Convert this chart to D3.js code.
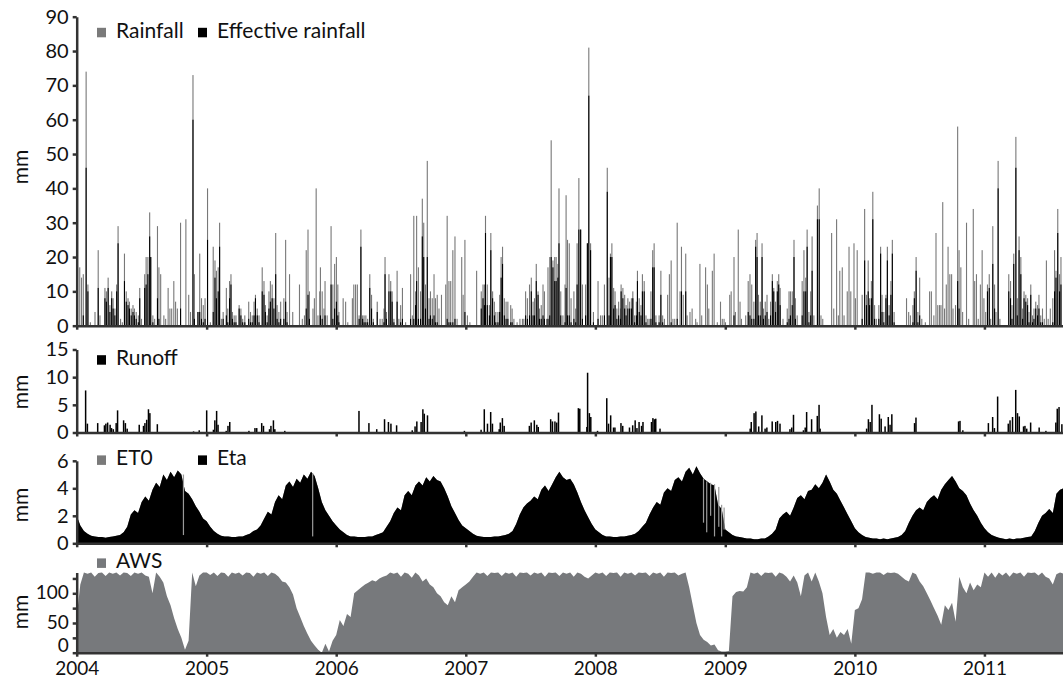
<!DOCTYPE html>
<html>
<head>
<meta charset="utf-8">
<script src="https://d3js.org/d3.v7.min.js"></script>
<style>
  body { margin: 0; background: #fff; }
  svg { display: block; font-family: Lato, "Open Sans", sans-serif; }
  .axis path, .axis line { stroke: #333; stroke-width: 2.5; }
  .axis text { font-size: 20px; fill: #111; font-family: Lato, sans-serif; }
  .lab { font-size: 21px; fill: #111; }
</style>
</head>
<body>
<svg id="chart" width="1063" height="679"></svg>
<script>
// rain events: [day since 2004-01-01, rainfall mm, effective rainfall mm]
var rain2004 = [[7,17,0],[12,14,0],[17,15,3],[25,74,46],[30,12,10],[37,1,0],[50,4,0],[59,22,11],[64,3,0],[78,11,8],[82,10,7],[87,14,11],[92,6,4],[97,10,8],[101,8,5],[106,5,3],[111,12,10],[115,29,24],[122,2,0],[127,1,0],[133,21,13],[138,10,7],[143,8,6],[147,7,5],[152,5,3],[157,6,4],[161,5,3],[166,4,2],[172,3,1],[176,11,8],[181,2,0],[190,15,11],[194,20,12],[199,20,15],[204,33,26],[207,20,20],[213,3,1],[218,2,0],[226,29,8],[230,17,2],[235,15,0],[244,3,0],[249,2,0],[256,11,0],[261,5,0],[266,5,0],[272,13,0],[277,7,0],[282,5,0],[291,30,5],[306,31,0],[314,9,0],[319,4,0],[326,73,60],[330,15,2],[340,4,4],[345,21,4],[350,8,2],[355,6,1],[360,8,2]];
var rain2005 = [[367,40,25],[375,1,0],[383,23,4],[388,19,14],[392,16,8],[397,17,10],[401,30,23],[406,2,0],[411,4,2],[420,11,3],[424,5,1],[429,13,8],[433,15,12],[437,4,2],[442,3,1],[447,3,1],[456,6,5],[461,5,3],[466,2,1],[472,3,1],[483,7,2],[488,4,1],[493,3,1],[498,7,3],[502,9,8],[507,5,3],[512,3,1],[521,17,10],[526,13,9],[530,6,4],[535,3,1],[540,10,5],[544,13,7],[549,12,8],[554,8,5],[559,27,15],[563,6,2],[568,4,1],[573,7,2],[582,8,2],[587,25,7],[591,4,1],[598,15,0],[607,4,0],[626,12,0],[634,2,0],[640,3,0],[645,22,5],[650,28,9],[654,10,2],[664,5,0],[668,8,0],[673,40,0],[678,3,0],[683,10,0],[685,17,3],[690,10,2],[695,5,0],[698,13,3],[704,3,0],[715,29,12],[720,12,2],[725,18,5],[730,20,7]];
var rain2006 = [[734,12,3],[737,4,1],[749,8,0],[756,7,0],[762,1,0],[775,8,0],[779,12,0],[784,12,0],[789,12,0],[794,3,2],[799,28,23],[804,3,2],[808,3,1],[813,3,1],[818,2,1],[824,15,11],[829,9,5],[834,2,1],[845,7,4],[853,2,0],[859,2,0],[864,5,1],[867,20,15],[871,4,2],[878,15,10],[883,13,10],[887,10,7],[892,2,1],[901,16,7],[906,2,0],[911,6,1],[916,11,2],[925,1,0],[939,15,2],[944,3,0],[948,32,2],[953,10,6],[956,32,13],[961,17,2],[967,10,2],[972,37,26],[976,30,20],[981,12,5],[986,48,20],[991,8,2],[995,10,3],[1000,8,2],[1005,15,3],[1009,8,1],[1014,9,1],[1019,5,0],[1026,9,0],[1038,12,0],[1042,32,2],[1047,13,1],[1052,13,1],[1058,22,1],[1064,26,2],[1070,2,0],[1083,20,0],[1087,9,0],[1092,25,4]];
var rain2007 = [[1099,3,0],[1106,1,0],[1125,16,0],[1138,10,5],[1143,12,8],[1147,12,6],[1150,32,27],[1155,12,6],[1161,6,3],[1165,27,22],[1170,10,8],[1175,7,3],[1179,4,1],[1185,4,1],[1190,9,4],[1194,20,14],[1198,23,18],[1203,8,3],[1208,7,2],[1213,7,2],[1221,6,1],[1225,5,1],[1230,2,0],[1239,1,0],[1247,2,0],[1254,2,0],[1258,2,0],[1263,10,3],[1268,8,2],[1274,12,3],[1279,14,10],[1284,7,3],[1288,8,3],[1293,18,13],[1298,10,9],[1302,5,2],[1307,6,2],[1312,12,3],[1316,10,2],[1322,2,0],[1326,17,2],[1331,20,3],[1335,54,20],[1340,19,17],[1345,20,13],[1349,20,13],[1354,18,14],[1357,40,24],[1362,10,3],[1368,3,0],[1374,12,1],[1377,38,11],[1381,25,3],[1386,24,3],[1391,8,1],[1399,10,2],[1404,5,1],[1408,24,12],[1413,43,28],[1418,28,28],[1423,12,2],[1432,12,3],[1437,24,24],[1441,81,67],[1446,24,22]];
var rain2008 = [[1454,4,1],[1467,13,2],[1474,3,0],[1479,3,0],[1485,12,3],[1493,46,39],[1498,14,3],[1502,21,20],[1506,24,20],[1511,11,5],[1515,10,6],[1520,5,2],[1525,7,3],[1530,5,2],[1532,12,10],[1537,11,8],[1542,9,5],[1546,6,3],[1551,8,5],[1556,7,5],[1561,8,5],[1565,10,8],[1570,3,1],[1575,7,3],[1578,16,13],[1583,8,4],[1588,6,3],[1592,15,10],[1597,13,10],[1602,3,1],[1607,2,0],[1611,2,0],[1616,10,2],[1621,22,17],[1625,24,17],[1630,3,1],[1639,3,1],[1644,16,9],[1649,3,1],[1654,2,0],[1663,9,0],[1668,15,0],[1673,19,1],[1678,2,0],[1683,2,0],[1690,30,2],[1698,10,0],[1702,23,10],[1707,9,0],[1714,21,10],[1718,3,0],[1726,4,0],[1732,5,0],[1742,2,0],[1746,1,0],[1754,18,0],[1759,3,0],[1770,17,0],[1775,12,0],[1779,5,0],[1789,16,0],[1794,21,0],[1803,1,0],[1812,7,0],[1817,2,0],[1822,2,0],[1826,1,0]];
var rain2009 = [[1838,9,0],[1842,10,0],[1850,20,3],[1854,4,0],[1862,28,0],[1867,7,0],[1871,2,0],[1883,3,0],[1890,13,4],[1895,15,3],[1900,12,2],[1906,7,2],[1911,25,23],[1915,27,20],[1919,9,3],[1924,7,3],[1929,24,20],[1933,5,2],[1938,7,3],[1943,9,4],[1948,2,0],[1953,7,3],[1958,15,13],[1962,11,10],[1967,7,4],[1972,13,10],[1976,15,12],[1980,11,6],[1988,2,0],[2000,5,1],[2005,10,2],[2009,10,3],[2014,10,6],[2019,25,20],[2023,8,2],[2028,3,0],[2042,13,3],[2047,22,10],[2052,14,10],[2056,28,23],[2061,4,1],[2066,10,3],[2070,26,16],[2075,3,0],[2085,35,31],[2090,40,31],[2095,3,0],[2100,2,0],[2125,27,0],[2131,5,0],[2139,31,0],[2144,3,0],[2148,16,0],[2155,17,0],[2160,3,0],[2169,10,0],[2174,23,0],[2179,10,0],[2188,24,0]];
var rain2010 = [[2192,8,0],[2197,22,0],[2211,9,2],[2218,34,19],[2223,9,6],[2228,19,10],[2232,8,6],[2237,13,8],[2241,39,31],[2246,6,2],[2251,2,0],[2258,6,2],[2263,23,21],[2267,9,4],[2272,4,1],[2278,9,8],[2282,23,19],[2287,6,3],[2292,13,9],[2296,25,21],[2301,4,1],[2336,8,0],[2342,4,0],[2347,3,0],[2354,6,1],[2358,10,8],[2363,20,16],[2368,4,1],[2373,14,3],[2379,2,0],[2389,1,0],[2401,10,0],[2406,10,0],[2413,3,0],[2419,27,0],[2424,6,0],[2429,6,0],[2433,6,0],[2438,36,0],[2443,5,0],[2448,12,0],[2453,23,0],[2458,15,0],[2463,15,0],[2467,5,0],[2474,6,0],[2480,58,13],[2484,22,5],[2489,17,0],[2494,4,0],[2505,30,0],[2511,2,0],[2524,34,0],[2528,13,0],[2533,15,0],[2538,2,0],[2544,12,0],[2549,22,0],[2554,8,0]];
var rain2011 = [[2559,4,0],[2564,12,10],[2569,15,11],[2573,2,0],[2579,29,18],[2584,12,5],[2588,4,0],[2594,48,40],[2599,2,0],[2624,15,10],[2629,13,8],[2633,6,2],[2638,21,18],[2644,55,46],[2648,8,3],[2653,26,22],[2658,20,15],[2663,5,2],[2667,10,8],[2672,9,7],[2677,8,6],[2681,4,1],[2686,12,9],[2691,3,1],[2695,5,2],[2700,7,5],[2705,6,3],[2709,9,5],[2714,3,1],[2719,5,1],[2724,2,0],[2730,19,0],[2735,2,0],[2741,5,0],[2748,8,1],[2753,22,10],[2757,16,14],[2762,34,27],[2767,15,10],[2771,20,12]];

// runoff: [day, mm]
var runoffA = [[25,7.6],[30,1.6],[59,1.7],[78,1.3],[82,1.6],[87,1.8],[94,1.4],[98,0.8],[103,0.6],[111,1.7],[115,4.0],[132,2.2],[137,1.7],[142,0.7],[176,1.4],[188,1.2],[192,1.7],[197,2.3],[202,4.2],[206,3.5],[227,1.5],[329,0.2],[345,0.4],[366,4.0],[385,0.5],[389,2.2],[394,3.9],[398,1.4],[421,0.3],[426,1.2],[431,1.9],[485,0.3],[502,0.8],[507,0.8],[521,1.7],[526,1.2],[543,0.6],[547,1.2],[554,2.2],[558,0.6],[586,0.3],[795,3.9],[823,1.7],[845,0.6],[867,2.4],[878,1.9],[885,1.6],[901,1.3],[945,0.4],[953,1.1],[958,2.0],[970,1.9],[975,4.2],[979,3.4],[988,3.1],[1092,0.3],[1139,0.5],[1148,4.2],[1157,1.6],[1166,3.7],[1171,1.6],[1190,0.6],[1193,1.8],[1199,2.6],[1204,1.2],[1275,1.2],[1280,1.8],[1289,2.2],[1296,1.4],[1300,1.0],[1335,2.4],[1340,2.0],[1347,2.0],[1352,1.8],[1357,3.6]];
var runoffB = [[1413,4.4],[1417,4.3],[1437,1.0],[1439,10.8],[1444,3.5],[1448,2.8],[1467,0.3],[1493,6.2],[1498,1.6],[1504,3.1],[1512,0.9],[1516,0.9],[1533,1.7],[1538,1.2],[1557,0.9],[1566,1.3],[1573,2.2],[1578,0.8],[1584,1.9],[1591,1.2],[1595,1.9],[1619,1.9],[1623,2.6],[1627,2.4],[1631,2.5],[1643,0.7],[1897,0.7],[1900,1.9],[1908,3.5],[1913,3.8],[1921,1.1],[1930,3.1],[1939,0.7],[1944,0.9],[1959,2.0],[1969,1.9],[1974,2.1],[1981,1.6],[2009,0.6],[2014,0.9],[2019,3.2],[2047,0.4],[2052,0.9],[2056,3.7],[2070,2.4],[2086,3.0],[2091,5.0],[2094,0.7],[2225,0.7],[2230,2.4],[2235,1.9],[2240,5.0],[2261,3.3],[2266,2.5],[2277,1.1],[2286,2.8],[2291,1.4],[2296,3.3],[2360,1.7],[2364,2.7],[2484,2.0],[2488,2.1],[2496,0.4],[2568,1.7],[2580,2.8],[2585,0.8],[2594,6.5],[2624,1.6],[2629,2.2],[2636,2.8],[2645,7.7],[2650,3.5],[2655,2.9],[2667,1.1],[2671,1.2],[2676,0.7],[2687,1.8],[2711,0.9],[2730,0.3],[2758,1.8],[2762,4.3],[2767,4.6],[2775,1.5]];

// ET0, mm/day, one value per dekad (36 per year)
var et2004 = [2.0,1.3,0.9,0.7,0.55,0.5,0.45,0.45,0.4,0.45,0.5,0.55,0.6,0.8,1.2,2.1,2.4,2.2,3.0,3.4,3.1,3.9,4.4,4.1,5.0,4.6,5.2,4.8,5.3,5.0,3.8,3.6,3.2,2.7,2.3,1.8];
var et2005 = [1.6,1.2,0.9,0.7,0.55,0.5,0.5,0.45,0.45,0.5,0.5,0.6,0.7,0.9,1.0,1.3,1.8,2.3,2.1,3.0,3.5,3.2,4.2,4.5,4.1,4.7,4.4,5.0,4.7,5.2,4.9,4.0,3.0,2.4,2.0,1.6];
var et2006 = [1.3,1.0,0.8,0.6,0.5,0.5,0.45,0.45,0.45,0.5,0.5,0.6,0.7,0.8,1.2,1.6,2.2,2.6,2.4,3.5,3.8,3.5,4.2,4.5,4.2,4.8,4.5,4.9,4.6,4.5,4.0,3.4,2.7,2.2,1.7,1.3];
var et2007 = [1.1,0.9,0.7,0.55,0.5,0.45,0.45,0.45,0.5,0.5,0.55,0.6,0.7,0.9,1.4,2.1,2.6,2.9,3.1,3.4,3.2,3.9,4.2,3.8,4.3,4.8,5.2,4.8,4.6,4.7,4.3,3.7,3.0,2.4,1.9,1.4];
var et2008 = [1.0,0.8,0.6,0.5,0.5,0.45,0.45,0.5,0.5,0.55,0.6,0.7,0.9,1.2,1.5,2.1,2.6,3.0,2.8,3.7,4.0,3.8,4.6,4.8,4.5,5.2,5.5,5.0,5.6,5.1,4.7,4.5,4.3,4.2,2.8,2.5];
var et2009 = [1.0,0.8,0.6,0.5,0.45,0.4,0.35,0.35,0.3,0.3,0.35,0.35,0.5,0.7,1.0,1.8,2.1,2.3,2.0,2.6,3.3,3.5,3.2,3.8,3.9,4.3,4.0,4.4,5.0,4.5,3.9,3.6,3.1,2.6,2.1,1.6];
var et2010 = [1.1,0.8,0.6,0.45,0.4,0.35,0.35,0.3,0.35,0.3,0.35,0.4,0.45,0.6,0.9,1.5,2.0,2.4,2.6,2.4,3.0,3.3,3.5,3.2,3.9,4.3,4.6,4.9,4.5,4.0,3.8,3.5,2.9,2.4,2.0,1.5];
var et2011 = [1.1,0.8,0.6,0.5,0.4,0.35,0.3,0.35,0.3,0.35,0.35,0.4,0.45,0.5,0.9,1.5,2.0,2.2,2.5,2.2,3.6,3.9,4.0];
// days where ETa fell below ET0: [day, ETa, ET0]
var etaLow = [[299,0.6,5.0],[663,0.5,5.1],[1764,1.5,4.7],[1773,0.8,4.5],[1784,2.0,4.4],[1795,0.5,4.3],[1807,1.2,4.1],[1815,0.5,2.8],[1822,1.0,2.6]];

// available water storage, mm, one value per dekad
var aws2004 = [60,115,135,133,135,128,134,135,129,135,133,135,130,135,134,129,135,133,135,130,128,100,135,128,118,95,80,58,40,25,5,20,135,112,130,135];
var aws2005 = [135,131,135,129,135,134,128,135,133,135,130,135,134,128,135,133,135,129,135,133,128,120,118,110,98,75,60,45,32,20,12,5,0,15,2,20];
var aws2006 = [30,55,45,65,60,100,105,110,115,118,122,120,125,128,130,135,133,135,128,135,133,126,135,130,120,125,115,110,100,95,85,80,95,85,105,110];
var aws2007 = [115,120,128,135,133,135,129,135,134,135,129,135,133,135,128,135,134,135,130,135,133,135,128,135,134,135,129,135,133,135,128,135,133,128,125,130];
var aws2008 = [135,133,135,129,135,134,135,128,135,133,135,130,135,134,135,129,135,133,135,128,135,134,135,130,133,135,110,80,50,30,22,18,12,14,4,2];
var aws2009 = [2,3,95,102,104,103,110,135,133,135,129,135,134,135,128,135,133,128,120,130,118,95,130,135,120,135,120,100,60,30,40,25,35,30,40,15];
var aws2010 = [72,75,90,135,135,133,135,135,131,135,134,135,133,128,123,120,135,132,120,112,100,88,75,62,47,80,72,84,52,128,110,100,118,105,115,110];
var aws2011 = [135,128,135,126,135,130,135,128,135,133,135,128,135,134,135,130,135,128,125,115,132,135,133];

var t0 = Date.UTC(2004, 0, 1);
function day(d) { return new Date(t0 + d * 864e5); }
function dekads(year, vals) {
  var len = (year % 4 === 0) ? 366 : 365;
  return vals.map(function(v, k) {
    return { date: new Date(Date.UTC(year, 0, 1) + k * len / 36 * 864e5), v: v };
  });
}

var rainAll = [].concat(rain2004, rain2005, rain2006, rain2007, rain2008, rain2009, rain2010, rain2011);
var runoffAll = runoffA.concat(runoffB);
var etAll = [].concat(dekads(2004, et2004), dekads(2005, et2005), dekads(2006, et2006), dekads(2007, et2007),
  dekads(2008, et2008), dekads(2009, et2009), dekads(2010, et2010), dekads(2011, et2011));
var awsAll = [].concat(dekads(2004, aws2004), dekads(2005, aws2005), dekads(2006, aws2006), dekads(2007, aws2007),
  dekads(2008, aws2008), dekads(2009, aws2009), dekads(2010, aws2010), dekads(2011, aws2011));

var svg = d3.select("#chart");

// shared time axis
var x = d3.scaleUtc().domain([day(0), day(2921)]).range([76.7, 76.7 + 2921 * 0.355]);

// panel scales
var y1 = d3.scaleLinear().domain([0, 90]).range([325.7, 16.7]);
var y2 = d3.scaleLinear().domain([0, 15]).range([432.5, 349.5]);
var y3 = d3.scaleLinear().domain([0, 6]).range([543.3, 460.8]);
var y4 = d3.scaleLinear().domain([0, 135]).range([652.7, 572.5]);

// --- rainfall panel
svg.append("g").selectAll("rect").data(rainAll).enter().append("rect")
  .attr("x", function(d) { return x(day(d[0])); })
  .attr("width", 1.1)
  .attr("y", function(d) { return y1(d[1]); })
  .attr("height", function(d) { return y1(0) - y1(d[1]); })
  .attr("fill", "#787878");
svg.append("g").selectAll("rect").data(rainAll.filter(function(d) { return d[2] > 0; })).enter().append("rect")
  .attr("x", function(d) { return x(day(d[0])); })
  .attr("width", 1.1)
  .attr("y", function(d) { return y1(d[2]); })
  .attr("height", function(d) { return y1(0) - y1(d[2]); })
  .attr("fill", "#000");

// --- runoff panel
svg.append("g").selectAll("rect").data(runoffAll).enter().append("rect")
  .attr("x", function(d) { return x(day(d[0])) - 0.7; })
  .attr("width", 1.5)
  .attr("y", function(d) { return y2(d[1]); })
  .attr("height", function(d) { return y2(0) - y2(d[1]); })
  .attr("fill", "#000");

// --- ET panel
var etArea = d3.area()
  .x(function(d) { return x(d.date); })
  .y0(y3(0))
  .y1(function(d) { return y3(d.v); });
svg.append("path").datum(etAll).attr("d", etArea).attr("fill", "#777");
svg.append("path").datum(etAll).attr("d", etArea).attr("fill", "#000");
svg.append("g").selectAll("rect").data(etaLow).enter().append("rect")
  .attr("x", function(d) { return x(day(d[0])); })
  .attr("width", 1.2)
  .attr("y", function(d) { return y3(d[2]); })
  .attr("height", function(d) { return y3(d[1]) - y3(d[2]); })
  .attr("fill", "#9a9a9a");

// --- AWS panel
var awsArea = d3.area()
  .x(function(d) { return x(d.date); })
  .y0(y4(0))
  .y1(function(d) { return y4(d.v); });
svg.append("path").datum(awsAll).attr("d", awsArea).attr("fill", "#77797c");

// --- axes
function xAxis(yPos, labels) {
  var ax = d3.axisBottom(x).ticks(d3.utcYear.every(1)).tickSize(4).tickSizeOuter(0).tickPadding(7)
    .tickFormat(labels ? d3.utcFormat("%Y") : "");
  var g = svg.append("g").attr("class", "axis").attr("transform", "translate(0," + yPos + ")").call(ax);
  if (labels) g.selectAll("text").style("font-size", "19px").attr("dy", "0.57em");
}
function yAxis(scale, values, fmt) {
  var ax = d3.axisLeft(scale).tickValues(values).tickSize(4).tickSizeOuter(0).tickPadding(4)
    .tickFormat(fmt || d3.format("d"));
  return svg.append("g").attr("class", "axis").attr("transform", "translate(76.7,0)").call(ax);
}
xAxis(y1(0), false);
xAxis(y2(0), false);
xAxis(y3(0), false);
xAxis(y4(0), true);
yAxis(y1, d3.range(0, 91, 10));
yAxis(y2, [0, 5, 10, 15]);
yAxis(y3, [0, 2, 4, 6]);
// AWS labels are packed tightly above the year labels
var awsLabels = yAxis(y4, [0, 25, 50, 75, 100, 125], function(d) { return d % 50 === 0 ? d : ""; })
  .selectAll("text").style("font-size", "19px").attr("dy", "0.28em");
awsLabels.filter(function(d) { return d === 0; }).attr("dy", "-0.07em");

// --- unit labels
[167, 392, 505, 612].forEach(function(yc) {
  svg.append("text").attr("class", "lab")
    .attr("transform", "translate(28," + yc + ") rotate(-90)")
    .attr("text-anchor", "middle").text("mm");
});

// --- legends
function legend(xs, ys, color, label) {
  svg.append("rect").attr("x", xs).attr("y", ys - 10).attr("width", 9).attr("height", 9.5).attr("fill", color);
  svg.append("text").attr("class", "lab").attr("x", xs + 19).attr("y", ys).text(label);
}
legend(97, 37.8, "#7a7a7a", "Rainfall");
legend(198, 37.8, "#000", "Effective rainfall");
legend(97, 365.2, "#000", "Runoff");
legend(97, 465.4, "#7a7a7a", "ET0");
legend(198, 465.4, "#000", "Eta");
legend(97, 568.4, "#77797c", "AWS");
</script>
</body>
</html>
